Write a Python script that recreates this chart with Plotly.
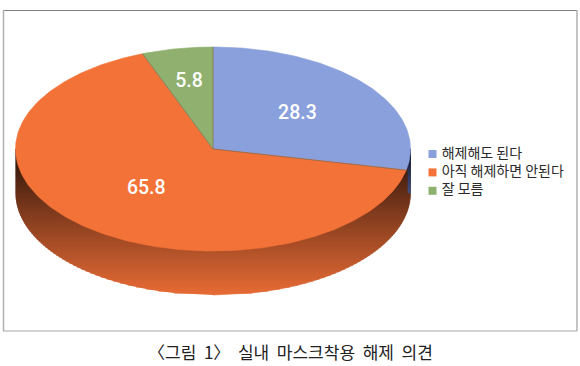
import math
import plotly.graph_objects as go

categories = ["해제해도 된다", "아직 해제하면 안된다", "잘 모름"]
values = [28.3, 65.8, 5.8]
value_labels = ["28.3", "65.8", "5.8"]
colors = ["#8aa0dc", "#f37238", "#8fb06f"]
caption = "〈그림 1〉 실내 마스크착용 해제 의견"

W, H = 580, 366
CX, CY, RX, RY, DEPTH = 213, 149, 197.5, 102, 44
LABEL_R = [0.55, 0.52, 0.67]
total = sum(values)


def pt(deg, dy=0.0, r=1.0):
    a = math.radians(deg)
    return CX + RX * r * math.sin(a), CY - RY * r * math.cos(a) + dy


def lerp(c0, c1, t):
    return "rgb(%d,%d,%d)" % tuple(round(a + (b - a) * t) for a, b in zip(c0, c1))


def half_width(y):
    if y <= CY + DEPTH:
        return RX
    u = (y - CY - DEPTH) / RY
    return RX * math.sqrt(max(0, 1 - u * u))


fig = go.Figure()
# frame
fig.add_shape(type="line", x0=3, x1=577, y0=10.5, y1=10.5, line=dict(color="#808080", width=1.2))
fig.add_shape(type="line", x0=3.5, x1=3.5, y0=10, y1=331, line=dict(color="#b0b0b0", width=1.5))
fig.add_shape(type="line", x0=577, x1=577, y0=10, y1=331, line=dict(color="#b0b0b0", width=1.5))
fig.add_shape(type="line", x0=3, x1=577, y0=331, y1=331, line=dict(color="#a8a8a8", width=1.2))


def poly(xs, ys, color, line=None):
    fig.add_trace(go.Scatter(x=xs, y=ys, mode="lines", fill="toself", fillcolor=color,
                             line=dict(color=line or color, width=0.6),
                             hoverinfo="skip", showlegend=False))


# boundary angle of first slice on the rim
edge_deg = values[0] / total * 360
edge_x = pt(edge_deg)[0]

# side wall: horizontal gradient bands of the extruded silhouette
STEP = 2
y = CY
top_c, bot_c = (28, 12, 6), (232, 108, 54)
while y < CY + DEPTH + RY:
    y1 = y + STEP
    t = (y - CY) / (DEPTH + RY)
    hw0, hw1 = half_width(y), half_width(y1)
    poly([CX - hw0, CX + hw0, CX + hw1, CX - hw1], [y, y, y1, y1], lerp(top_c, bot_c, t ** 0.85))
    y = y1

# dark blue sliver of the first slice's side wall
y = CY
while y < CY + DEPTH:
    y1 = min(y + STEP, CY + DEPTH)
    t = (y - CY) / DEPTH
    poly([edge_x + 1.5, CX + RX, CX + RX, edge_x + 1.5], [y, y, y1, y1], lerp((14, 18, 40), (70, 82, 130), t))
    y = y1

# top faces
start = 0.0
for v, c in zip(values, colors):
    end = start + v / total * 360
    n = max(4, int(end - start))
    arc = [pt(start + (end - start) * i / n) for i in range(n + 1)]
    xs = [CX] + [p[0] for p in arc] + [CX]
    ys = [CY] + [p[1] for p in arc] + [CY]
    poly(xs, ys, c)
    start = end

# divider lines
start = 0.0
for v, c in zip(values, colors):
    end = start + v / total * 360
    x, y_ = pt(end)
    fig.add_trace(go.Scatter(x=[CX, x], y=[CY, y_], mode="lines",
                             line=dict(color="#8a6a4a", width=0.7),
                             hoverinfo="skip", showlegend=False))
    start = end

# value labels
start = 0.0
lx, ly = [], []
for v, r in zip(values, LABEL_R):
    mid = start + v / total * 180
    p = pt(mid, r=r)
    lx.append(p[0])
    ly.append(p[1])
    start += v / total * 360
fig.add_trace(go.Scatter(x=lx, y=ly, mode="text", text=value_labels,
                         textfont=dict(family="Roboto", size=19.5, color="white", weight=500),
                         hoverinfo="skip", showlegend=False))

# legend
LEG_X, LEG_Y, LEG_GAP = 432.5, 154, 18.4
for i, (name, c) in enumerate(zip(categories, colors)):
    fig.add_trace(go.Scatter(x=[LEG_X], y=[LEG_Y + i * LEG_GAP], mode="markers+text",
                             marker=dict(symbol="square", size=8, color=c),
                             text=[" " + name], textposition="middle right",
                             textfont=dict(family="Noto Sans CJK KR", size=14, color="#2a2a2a"),
                             name=name, hoverinfo="skip", showlegend=False))

fig.add_annotation(x=290, y=351.5, text=caption.replace(" ", "\u00a0\u00a0"), showarrow=False,
                   xref="x", yref="y",
                   font=dict(family="Noto Sans CJK KR", size=17, color="#222222"))

fig.update_layout(
    width=W, height=H, margin=dict(l=0, r=0, t=0, b=0), autosize=False,
    paper_bgcolor="white", plot_bgcolor="white", showlegend=False,
    xaxis=dict(range=[0, W], visible=False, fixedrange=True),
    yaxis=dict(range=[H, 0], visible=False, fixedrange=True),
)
fig.write_html("out.html", config=dict(displayModeBar=False),
               post_script="document.body.style.margin='0';document.documentElement.style.overflow='hidden';")
